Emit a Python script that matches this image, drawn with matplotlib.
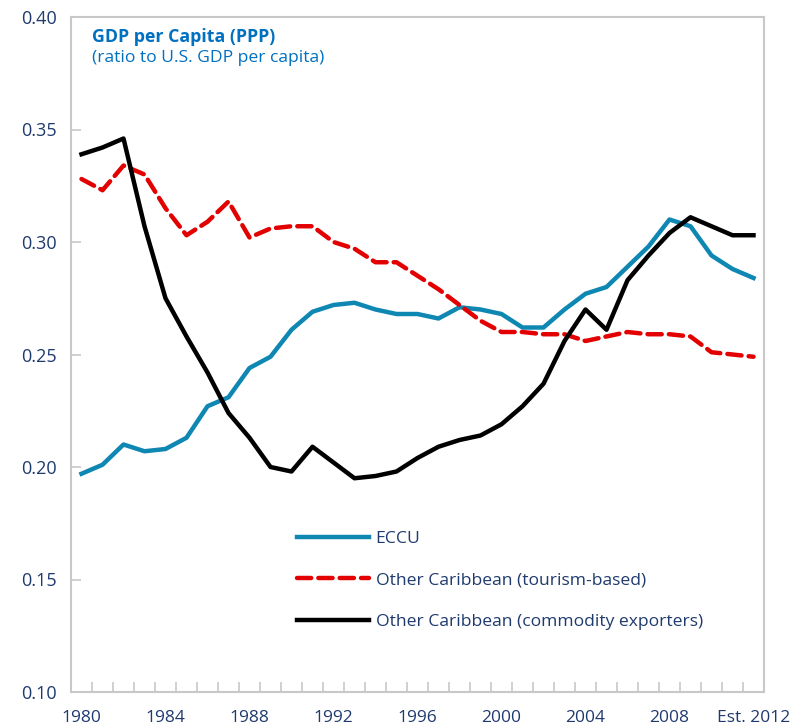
import matplotlib.pyplot as plt
import numpy as np

plt.rcParams['font.family'] = ['Open Sans', 'DejaVu Sans']

# data
years = list(range(1980, 2013))
eccu = [0.197, 0.201, 0.210, 0.207, 0.208, 0.213, 0.227, 0.231, 0.244, 0.249,
        0.261, 0.269, 0.272, 0.273, 0.270, 0.268, 0.268, 0.266, 0.271, 0.270,
        0.268, 0.262, 0.262, 0.270, 0.277, 0.280, 0.289, 0.298, 0.310, 0.307,
        0.294, 0.288, 0.284]
tourism = [0.328, 0.323, 0.334, 0.330, 0.315, 0.303, 0.309, 0.318, 0.302, 0.306,
           0.307, 0.307, 0.300, 0.297, 0.291, 0.291, 0.285, 0.279, 0.272, 0.265,
           0.260, 0.260, 0.259, 0.259, 0.256, 0.258, 0.260, 0.259, 0.259, 0.258,
           0.251, 0.250, 0.249]
commodity = [0.339, 0.342, 0.346, 0.307, 0.275, 0.258, 0.242, 0.224, 0.213, 0.200,
             0.198, 0.209, 0.202, 0.195, 0.196, 0.198, 0.204, 0.209, 0.212, 0.214,
             0.219, 0.227, 0.237, 0.256, 0.270, 0.261, 0.283, 0.294, 0.304, 0.311,
             0.307, 0.303, 0.303]
xlabels = ['1980', '1984', '1988', '1992', '1996', '2000', '2004', '2008', 'Est. 2012']

navy = '#1f3a6e'
grey = '#c8c8c8'

fig = plt.figure(figsize=(8.03, 7.28), dpi=100)
ax = fig.add_axes([71/803, 1-692/728, 693/803, 675/728])

x = np.arange(len(years))
ax.plot(x, eccu, color='#0e87b3', lw=3.2, label='ECCU')
ax.plot(x, tourism, color='#e30000', lw=3.2, dashes=(3.2, 1.6),
        dash_capstyle='round', label='Other Caribbean (tourism-based)')
ax.plot(x, commodity, color='black', lw=3.2, label='Other Caribbean (commodity exporters)')

ax.set_xlim(-0.5, len(years) - 0.5)
ax.set_ylim(0.10, 0.40)
ax.set_yticks(np.arange(0.10, 0.401, 0.05))
ax.set_yticklabels(['%.2f' % v for v in np.arange(0.10, 0.401, 0.05)])
ax.set_xticks(x[::4])
ax.set_xticklabels(xlabels)
ax.set_xticks(np.arange(0.5, len(years) - 1, 1), minor=True)

for s in ax.spines.values():
    s.set_color(grey)
    s.set_linewidth(1.5)
ax.tick_params(axis='y', direction='in', length=7, width=1.2, color=grey,
               labelsize=13, labelcolor=navy, pad=10)
ax.tick_params(axis='x', which='major', length=0, labelsize=12.5, labelcolor=navy, pad=13)
ax.tick_params(axis='x', which='minor', direction='in', length=7, width=1.2, color=grey)

# title block inside the plot
ax.text(0.030, 0.970, 'GDP per Capita (PPP)', transform=ax.transAxes,
        fontsize=12.8, fontweight='bold', color='#0070c0', va='center')
ax.text(0.030, 0.939, '(ratio to U.S. GDP per capita)', transform=ax.transAxes,
        fontsize=12.6, color='#0070c0', va='center')

leg = ax.legend(loc='upper left', bbox_to_anchor=(0.326, 0.239), frameon=False,
                fontsize=12.6, handlelength=4.1, handletextpad=0.4, labelspacing=1.45,
                borderaxespad=0, borderpad=0)
for t in leg.get_texts():
    t.set_color(navy)

fig.savefig('out.png', dpi=100)
